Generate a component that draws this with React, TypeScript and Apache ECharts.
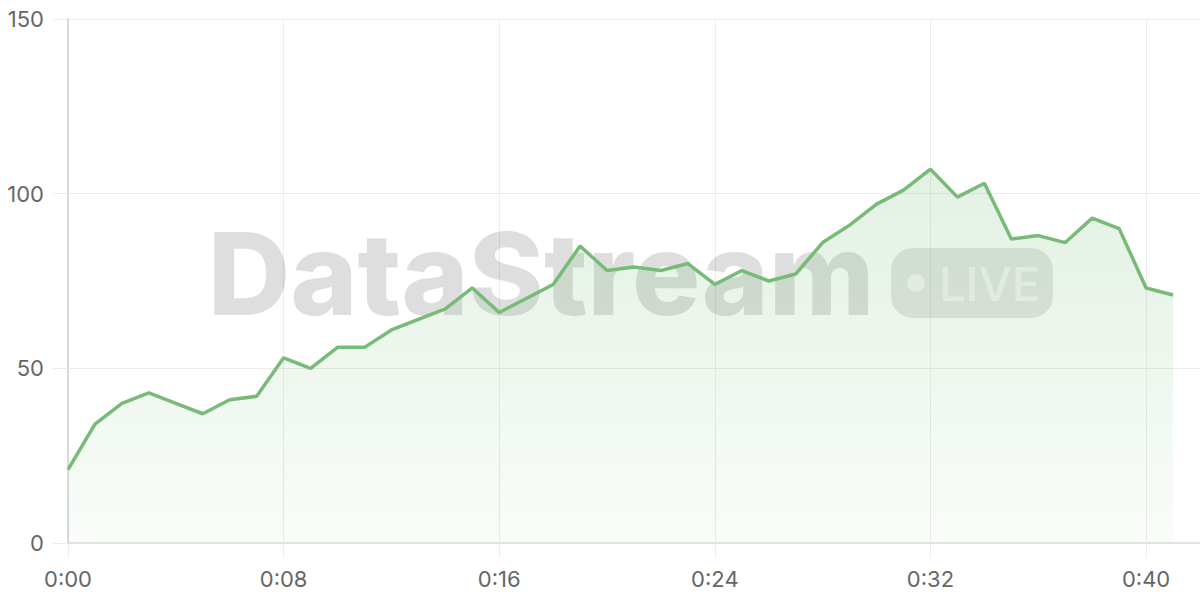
import React, { useEffect, useRef } from "react";
import * as echarts from "echarts";

const seconds = [
  0, 1, 2, 3, 4, 5, 6, 7, 8, 9, 10, 11, 12, 13, 14, 15, 16, 17, 18, 19, 20,
  21, 22, 23, 24, 25, 26, 27, 28, 29, 30, 31, 32, 33, 34, 35, 36, 37, 38, 39,
  40, 41,
];
const values = [
  21, 34, 40, 43, 40, 37, 41, 42, 53, 50, 56, 56, 61, 64, 67, 73, 66, 70, 74,
  85, 78, 79, 78, 80, 74, 78, 75, 77, 86, 91, 97, 101, 107, 99, 103, 87, 88,
  86, 93, 90, 73, 71,
];
const yTicks = [0, 50, 100, 150];
const watermarkTitle = "DataStream";
const watermarkBadge = "LIVE";

const FONT = "Inter, 'Noto Sans', sans-serif";

function fmtTime(v: number) {
  const m = Math.floor(v / 60);
  const s = Math.round(v % 60);
  return `${m}:${String(s).padStart(2, "0")}`;
}

export default function App() {
  const ref = useRef<HTMLDivElement>(null);
  useEffect(() => {
    if (!ref.current) return;
    const chart = echarts.init(ref.current, null, { renderer: "svg" });
    const data = seconds.map((s, i) => [s, values[i]]);
    chart.setOption({
      animation: false,
      grid: { left: 68, right: 0, top: 19, bottom: 57, containLabel: false },
      xAxis: {
        type: "value",
        min: 0,
        max: 42,
        interval: 8,
        axisLine: { show: true, lineStyle: { color: "#dcdcdc", width: 1.5 } },
        axisTick: { show: true, length: 15, lineStyle: { color: "#ececec" } },
        splitLine: { show: true, lineStyle: { color: "#ececec", width: 1 } },
        axisLabel: {
          margin: 25,
          fontSize: 22,
          color: "#666",
          fontFamily: FONT,
          showMaxLabel: false,
          formatter: (v: number) => (v % 8 === 0 ? fmtTime(v) : ""),
        },
      },
      yAxis: {
        type: "value",
        min: yTicks[0],
        max: yTicks[yTicks.length - 1],
        interval: 50,
        axisLine: { show: true, lineStyle: { color: "#d0d0d0", width: 1.5 } },
        axisTick: { show: true, length: 15, lineStyle: { color: "#ececec" } },
        splitLine: { show: true, lineStyle: { color: "#ececec", width: 1 } },
        axisLabel: {
          margin: 24,
          fontSize: 22,
          color: "#666",
          fontFamily: FONT,
        },
      },
      graphic: [
        {
          type: "text",
          z: 1,
          left: 208,
          top: 216,
          style: {
            text: watermarkTitle,
            fontSize: 114,
            fontWeight: 800,
            fontFamily: FONT,
            fill: "rgba(0,0,0,0.13)",
          },
        },
        {
          type: "rect",
          z: 1,
          shape: { x: 891, y: 248, width: 162, height: 70, r: 22 },
          style: { fill: "rgba(0,0,0,0.1)" },
        },
        {
          type: "circle",
          z: 1,
          shape: { cx: 916, cy: 283, r: 9 },
          style: { fill: "rgba(255,255,255,0.6)" },
        },
        {
          type: "text",
          z: 1,
          x: 939,
          y: 283,
          style: {
            text: watermarkBadge,
            fontSize: 47,
            fontWeight: 500,
            fontFamily: FONT,
            fill: "rgba(255,255,255,0.6)",
            verticalAlign: "middle",
            align: "left",
          },
        },
      ],
      series: [
        {
          type: "line",
          data,
          showSymbol: false,
          symbol: "none",
          z: 2,
          lineStyle: { color: "#78bb78", width: 3.5 },
          itemStyle: { color: "#78bb78" },
          areaStyle: {
            color: new echarts.graphic.LinearGradient(0, 0, 0, 1, [
              { offset: 0, color: "rgba(120,187,120,0.3)" },
              { offset: 1, color: "rgba(120,187,120,0.06)" },
            ]),
          },
        },
      ],
    });
    return () => chart.dispose();
  }, []);
  return (
    <div
      ref={ref}
      style={{ width: 1200, height: 600, position: "absolute", left: 0, top: 0 }}
    />
  );
}
